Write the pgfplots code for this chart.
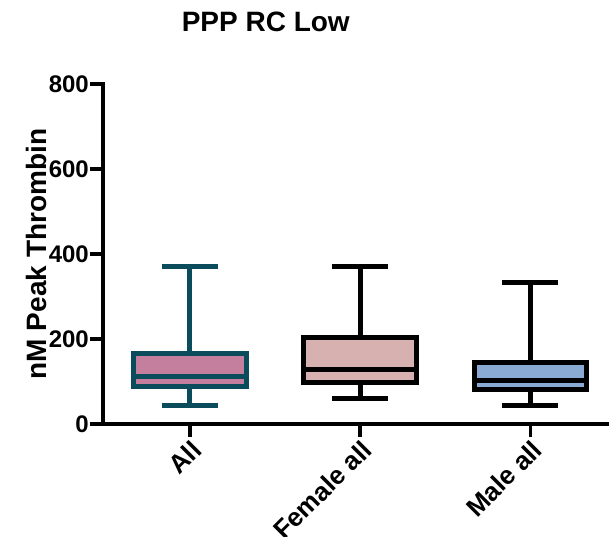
\documentclass[border=0pt]{standalone}
\usepackage{fontspec}
\setmainfont{Liberation Sans}
\usepackage{pgfplots}
\pgfplotsset{compat=1.18}
\usepgfplotslibrary{statistics}

\definecolor{allfill}{HTML}{C47E9E}
\definecolor{alledge}{HTML}{0B4C5C}
\definecolor{femfill}{HTML}{D7B1AF}
\definecolor{malefill}{HTML}{8AAAD3}

\begin{document}
\begin{tikzpicture}
\begin{axis}[
    scale only axis,
    width=504pt, height=340pt,
    xmin=0.49, xmax=3.45,
    ymin=0, ymax=800,
    axis x line*=bottom,
    axis y line*=left,
    axis line style={line width=4pt, line cap=rect},
    tick style={line width=3.5pt, black},
    major tick length=13pt,
    tick align=outside,
    ytick={0,200,...,800},
    xtick={1,2,3},
    xticklabels={All,Female all,Male all},
    /pgf/number format/assume math mode=true,
    yticklabel style={font=\bfseries\fontsize{24}{24}\selectfont, inner sep=1pt},
    xticklabel style={rotate=45, anchor=north east, inner sep=1pt,
        font=\bfseries\fontsize{26}{26}\selectfont},
    title={PPP RC Low},
    title style={at={(0.323,1)}, anchor=base, yshift=47pt,
        font=\bfseries\fontsize{28}{28}\selectfont},
    ylabel={nM Peak Thrombin},
    ylabel style={at={(axis description cs:-0.113,0.5)}, anchor=base,
        font=\bfseries\fontsize{28}{28}\selectfont},
    boxplot/draw direction=y,
    clip=false,
]
\addplot[boxplot prepared={draw position=1, median=112,
        upper quartile=166, lower quartile=88,
        upper whisker=370, lower whisker=44,
        box extend=0.66, whisker extend=0.33},
    draw=alledge, fill=allfill, line width=5pt, line join=miter, solid]
    coordinates {};
\addplot[boxplot prepared={draw position=2, median=129,
        upper quartile=204, lower quartile=97,
        upper whisker=370, lower whisker=59,
        box extend=0.66, whisker extend=0.33},
    draw=black, fill=femfill, line width=5pt, line join=miter, solid]
    coordinates {};
\addplot[boxplot prepared={draw position=3, median=102,
        upper quartile=144, lower quartile=82,
        upper whisker=334, lower whisker=44,
        box extend=0.66, whisker extend=0.33},
    draw=black, fill=malefill, line width=5pt, line join=miter, solid]
    coordinates {};
\end{axis}
\pgfresetboundingbox
\path (-103pt,-113pt) rectangle (510pt,424pt);
\end{tikzpicture}
\end{document}
